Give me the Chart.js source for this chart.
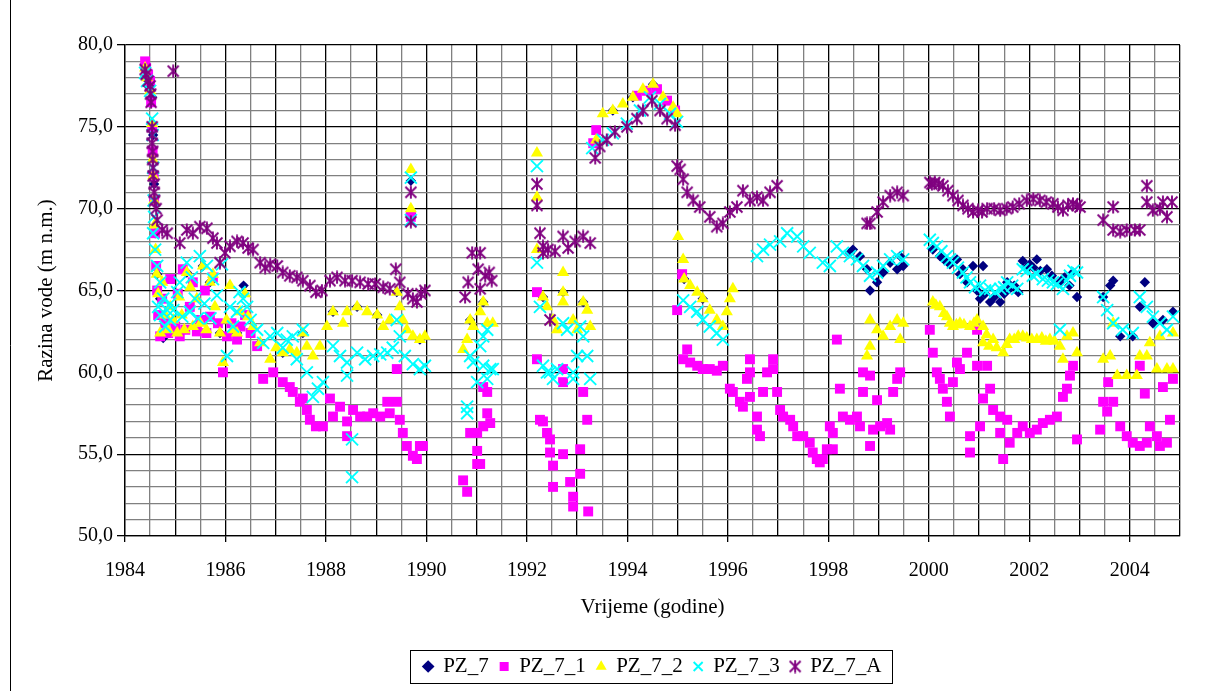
<!DOCTYPE html>
<html><head><meta charset="utf-8">
<script src="https://cdn.jsdelivr.net/npm/chart.js@4.4.0/dist/chart.umd.min.js"></script>
<style>html,body{margin:0;padding:0;background:#fff;}#wrap{width:1208px;height:691px;}</style>
</head><body><div id="wrap"><canvas id="c" width="1208" height="691"></canvas></div>
<script>
const seriesNames = ['PZ_7', 'PZ_7_1', 'PZ_7_2', 'PZ_7_3', 'PZ_7_A'];
const xTitle = 'Vrijeme (godine)';
const yTitle = 'Razina vode (m n.m.)';

const pz7 = [[1984.40,78.0],[1984.46,77.5],[1984.54,76.8],[1984.56,74.5],[1984.58,71.5],[1984.60,68.5],[1984.64,66.0],[1984.70,64.5],[1984.76,62.1],[1985.04,62.4],[1985.23,66.1],[1985.55,66.5],[1985.69,65.5],[1985.89,62.4],[1986.23,62.4],[1986.36,65.3],[1986.69,61.8],[1987.14,61.2],[1987.54,62.4],[1988.14,63.7],[1988.62,64.0],[1989.02,63.5],[1989.41,64.9],[1989.69,71.7],[1989.69,69.7],[1989.87,62.0],[1990.87,63.2],[1991.13,64.3],[1992.32,64.6],[1992.72,64.9],[1993.12,64.3],[1993.71,76.0],[1994.11,76.8],[1994.51,77.6],[1995.13,65.7],[1995.50,64.5],[1998.43,67.3],[1998.49,67.5],[1998.63,67.1],[1998.77,66.3],[1998.83,65.0],[1998.97,65.5],[1999.09,66.1],[1999.23,66.7],[1999.37,66.3],[1999.43,67.1],[1999.49,66.5],[2000.08,67.5],[2000.22,67.1],[2000.30,66.9],[2000.36,66.8],[2000.42,66.6],[2000.56,66.9],[2000.62,66.0],[2000.68,66.3],[2000.76,65.5],[2000.88,66.5],[2000.96,65.0],[2001.02,64.5],[2001.08,66.5],[2001.12,64.8],[2001.22,64.3],[2001.30,64.6],[2001.42,64.3],[2001.50,64.8],[2001.56,65.5],[2001.61,65.1],[2001.70,65.3],[2001.78,64.9],[2001.87,66.8],[2001.95,66.4],[2002.01,66.6],[2002.08,66.4],[2002.15,66.9],[2002.22,66.2],[2002.35,66.3],[2002.45,65.9],[2002.61,65.5],[2002.70,65.8],[2002.80,65.3],[2002.87,66.1],[2002.95,64.6],[2003.47,64.6],[2003.61,65.3],[2003.67,65.6],[2003.81,62.2],[2004.06,62.2],[2004.20,64.0],[2004.30,65.5],[2004.46,63.0],[2004.66,63.2],[2004.86,63.7]];

const pz7_1 = [[1984.40,79.0],[1984.42,78.6],[1984.46,78.2],[1984.50,77.8],[1984.52,76.5],[1984.54,75.0],[1984.55,73.5],[1984.57,72.0],[1984.58,70.5],[1984.60,68.5],[1984.62,66.5],[1984.64,65.0],[1984.66,63.5],[1984.70,62.2],[1984.74,64.5],[1984.80,63.0],[1984.86,62.4],[1984.90,65.7],[1985.00,62.8],[1985.05,64.8],[1985.09,62.2],[1985.15,66.3],[1985.20,62.6],[1985.29,64.0],[1985.35,65.5],[1985.43,62.5],[1985.50,63.2],[1985.59,65.0],[1985.62,62.4],[1985.69,63.4],[1985.75,65.8],[1985.85,63.0],[1985.95,60.0],[1986.03,62.2],[1986.12,63.0],[1986.23,62.0],[1986.30,62.8],[1986.39,63.5],[1986.50,62.4],[1986.63,61.6],[1986.75,59.6],[1986.95,60.0],[1987.14,59.4],[1987.28,59.1],[1987.34,58.8],[1987.48,58.2],[1987.54,58.4],[1987.62,57.7],[1987.68,57.1],[1987.80,56.7],[1987.94,56.7],[1988.08,58.4],[1988.14,57.3],[1988.28,57.9],[1988.42,57.0],[1988.42,56.1],[1988.54,57.7],[1988.68,57.3],[1988.82,57.3],[1988.94,57.5],[1989.08,57.3],[1989.22,58.2],[1989.27,57.5],[1989.41,58.2],[1989.41,60.2],[1989.47,57.1],[1989.53,56.3],[1989.61,55.5],[1989.69,69.5],[1989.73,54.9],[1989.81,54.7],[1989.87,55.5],[1989.93,55.5],[1990.73,53.4],[1990.81,52.7],[1990.87,56.3],[1991.01,56.3],[1991.01,55.2],[1991.01,54.4],[1991.07,54.4],[1991.13,56.7],[1991.13,59.1],[1991.21,57.5],[1991.21,58.8],[1991.27,56.9],[1992.20,64.9],[1992.20,60.8],[1992.26,57.1],[1992.32,57.0],[1992.40,56.3],[1992.46,55.9],[1992.46,55.1],[1992.52,54.3],[1992.52,53.0],[1992.72,60.2],[1992.72,59.4],[1992.72,55.0],[1992.86,53.3],[1992.92,52.4],[1992.92,51.8],[1993.06,55.3],[1993.06,53.8],[1993.12,58.8],[1993.20,57.1],[1993.22,51.5],[1993.32,74.0],[1993.38,74.8],[1994.19,76.9],[1994.39,77.2],[1994.59,77.3],[1994.79,76.6],[1994.95,76.0],[1994.99,63.8],[1995.09,66.0],[1995.19,61.4],[1995.11,60.8],[1995.25,60.6],[1995.39,60.4],[1995.50,60.2],[1995.64,60.2],[1995.78,60.1],[1995.90,60.4],[1996.04,59.0],[1996.10,58.8],[1996.24,58.2],[1996.30,57.9],[1996.38,59.6],[1996.44,58.5],[1996.44,60.0],[1996.44,60.8],[1996.58,57.3],[1996.58,56.5],[1996.64,56.1],[1996.70,58.8],[1996.78,60.0],[1996.90,60.2],[1996.90,60.8],[1996.98,58.8],[1997.04,57.7],[1997.10,57.3],[1997.24,57.1],[1997.30,56.7],[1997.38,56.1],[1997.50,56.1],[1997.63,55.7],[1997.69,55.1],[1997.77,54.7],[1997.83,54.5],[1997.89,54.7],[1997.97,55.3],[1998.03,56.7],[1998.09,55.3],[1998.09,56.3],[1998.17,62.0],[1998.23,59.0],[1998.29,57.3],[1998.43,57.1],[1998.57,57.3],[1998.63,56.7],[1998.69,60.0],[1998.69,58.8],[1998.83,59.8],[1998.83,55.5],[1998.89,56.5],[1998.97,58.3],[1999.03,56.7],[1999.17,56.9],[1999.23,56.5],[1999.29,58.8],[1999.37,59.6],[1999.43,60.0],[2000.02,62.6],[2000.08,61.2],[2000.16,60.0],[2000.22,59.6],[2000.28,59.0],[2000.36,58.2],[2000.42,57.3],[2000.48,59.4],[2000.56,60.6],[2000.62,60.2],[2000.76,61.2],[2000.82,56.1],[2000.82,55.1],[2000.96,60.4],[2000.96,62.6],[2001.02,56.7],[2001.08,58.4],[2001.16,60.4],[2001.22,59.0],[2001.28,57.7],[2001.42,57.3],[2001.42,56.3],[2001.48,54.7],[2001.56,57.1],[2001.61,55.7],[2001.76,56.3],[2001.87,56.7],[2002.01,56.3],[2002.15,56.5],[2002.27,56.9],[2002.41,57.1],[2002.55,57.3],[2002.67,58.5],[2002.75,59.0],[2002.81,59.8],[2002.87,60.4],[2002.95,55.9],[2003.41,56.5],[2003.47,58.2],[2003.55,57.6],[2003.57,59.4],[2003.67,58.2],[2003.81,56.7],[2003.94,56.1],[2004.06,55.7],[2004.20,55.5],[2004.20,60.4],[2004.30,58.7],[2004.34,55.7],[2004.40,56.7],[2004.54,56.1],[2004.60,55.5],[2004.66,59.1],[2004.74,55.7],[2004.80,57.1],[2004.86,59.6]];

const pz7_2 = [[1984.40,78.6],[1984.44,78.0],[1984.50,77.2],[1984.54,75.2],[1984.55,73.0],[1984.56,72.0],[1984.58,70.5],[1984.59,69.0],[1984.61,67.5],[1984.63,66.0],[1984.66,64.8],[1984.70,62.4],[1984.74,65.5],[1984.80,63.5],[1984.86,62.6],[1984.90,64.0],[1984.96,63.2],[1985.04,62.4],[1985.08,64.6],[1985.13,63.5],[1985.18,62.6],[1985.23,66.1],[1985.30,65.2],[1985.35,62.8],[1985.43,64.5],[1985.50,63.0],[1985.55,66.5],[1985.62,62.6],[1985.69,65.5],[1985.75,66.0],[1985.79,64.0],[1985.89,62.4],[1985.95,60.6],[1986.02,63.2],[1986.09,65.3],[1986.15,62.6],[1986.23,62.4],[1986.29,63.7],[1986.39,64.8],[1986.45,63.4],[1986.55,62.8],[1986.69,61.8],[1986.89,60.8],[1987.01,61.5],[1987.14,61.2],[1987.28,61.4],[1987.42,61.2],[1987.54,62.4],[1987.62,61.6],[1987.74,61.0],[1987.88,61.6],[1988.02,62.8],[1988.14,63.7],[1988.34,63.0],[1988.42,63.7],[1988.62,64.0],[1988.82,63.7],[1989.02,63.5],[1989.14,62.8],[1989.27,63.2],[1989.41,64.9],[1989.47,64.0],[1989.53,63.2],[1989.61,62.6],[1989.69,72.4],[1989.69,70.0],[1989.73,62.2],[1989.87,62.0],[1989.97,62.2],[1990.73,61.4],[1990.81,62.0],[1990.87,63.2],[1990.93,62.8],[1991.07,63.7],[1991.13,64.3],[1991.21,63.0],[1991.32,63.0],[1992.20,73.4],[1992.20,70.7],[1992.20,67.5],[1992.32,64.6],[1992.40,64.0],[1992.52,63.2],[1992.60,62.6],[1992.72,66.1],[1992.72,64.9],[1992.72,64.3],[1992.92,63.2],[1993.00,62.6],[1993.12,64.3],[1993.20,63.8],[1993.26,62.8],[1993.38,74.2],[1993.51,75.8],[1993.71,76.0],[1993.91,76.4],[1994.11,76.8],[1994.31,77.3],[1994.51,77.6],[1994.71,76.8],[1994.91,76.2],[1994.99,75.8],[1995.01,68.3],[1995.11,66.9],[1995.13,65.7],[1995.25,65.3],[1995.39,64.9],[1995.50,64.5],[1995.64,63.8],[1995.78,63.2],[1995.90,62.8],[1995.98,63.7],[1996.04,64.5],[1996.10,65.1],[1998.77,61.0],[1998.83,63.2],[1998.83,61.6],[1998.97,62.6],[1999.09,62.2],[1999.23,62.8],[1999.37,63.2],[1999.43,62.0],[1999.49,63.0],[2000.08,64.3],[2000.14,64.1],[2000.22,64.0],[2000.30,63.6],[2000.36,63.4],[2000.42,63.0],[2000.48,62.8],[2000.55,62.9],[2000.62,63.0],[2000.70,62.9],[2000.82,62.8],[2000.90,63.0],[2000.96,63.2],[2001.08,62.8],[2001.08,61.8],[2001.15,62.3],[2001.20,61.6],[2001.28,62.0],[2001.35,61.5],[2001.48,61.2],[2001.55,61.7],[2001.61,62.0],[2001.70,62.0],[2001.78,62.2],[2001.87,62.2],[2001.95,62.1],[2002.05,62.0],[2002.15,62.0],[2002.25,62.1],[2002.33,61.9],[2002.41,62.0],[2002.50,61.9],[2002.61,61.6],[2002.67,60.8],[2002.75,62.2],[2002.87,62.4],[2002.95,61.2],[2003.47,60.8],[2003.61,61.0],[2003.67,63.0],[2003.75,59.8],[2003.94,59.8],[2004.14,59.8],[2004.20,61.0],[2004.34,61.0],[2004.40,61.8],[2004.54,60.2],[2004.60,62.2],[2004.74,60.2],[2004.86,60.2],[2004.86,62.4]];

const pz7_3 = [[1984.40,78.3],[1984.44,77.8],[1984.50,77.2],[1984.54,75.5],[1984.55,74.5],[1984.56,72.5],[1984.57,70.5],[1984.58,69.5],[1984.56,68.5],[1984.60,67.5],[1984.64,66.5],[1984.66,64.0],[1984.70,65.5],[1984.70,63.5],[1984.76,64.5],[1984.80,62.8],[1984.84,63.8],[1984.90,63.2],[1984.90,64.2],[1984.96,63.8],[1985.04,64.9],[1985.09,65.5],[1985.14,63.4],[1985.23,66.7],[1985.29,63.7],[1985.33,65.8],[1985.39,64.5],[1985.45,63.3],[1985.49,67.1],[1985.58,64.2],[1985.63,66.5],[1985.70,63.3],[1985.75,65.7],[1985.83,64.7],[1985.93,66.6],[1986.03,61.0],[1986.09,64.0],[1986.15,62.8],[1986.23,63.7],[1986.28,64.9],[1986.35,64.5],[1986.43,64.0],[1986.50,63.2],[1986.63,62.6],[1986.75,61.8],[1986.89,62.2],[1987.03,62.4],[1987.14,61.5],[1987.22,62.0],[1987.34,62.2],[1987.42,60.8],[1987.54,62.6],[1987.62,60.0],[1987.74,58.5],[1987.84,59.0],[1987.94,59.4],[1988.14,61.6],[1988.28,61.0],[1988.42,60.6],[1988.42,59.8],[1988.52,55.9],[1988.52,53.6],[1988.62,61.2],[1988.78,60.8],[1988.94,61.0],[1989.08,61.1],[1989.22,61.2],[1989.33,61.5],[1989.41,63.2],[1989.47,62.2],[1989.57,61.0],[1989.69,71.9],[1989.69,69.3],[1989.73,60.5],[1989.87,60.2],[1989.97,60.4],[1990.81,57.9],[1990.81,57.5],[1990.87,61.0],[1990.93,60.6],[1991.01,59.4],[1991.07,61.6],[1991.13,62.2],[1991.13,60.4],[1991.21,62.6],[1991.21,59.6],[1991.27,60.2],[1991.32,60.2],[1992.20,72.6],[1992.20,66.7],[1992.26,64.0],[1992.32,60.4],[1992.40,60.0],[1992.46,60.0],[1992.52,59.6],[1992.60,60.2],[1992.72,63.0],[1992.80,62.6],[1992.92,60.0],[1992.92,59.6],[1993.00,61.0],[1993.06,62.8],[1993.12,62.2],[1993.20,61.0],[1993.26,59.6],[1993.30,73.7],[1993.51,74.2],[1993.71,74.6],[1993.99,75.2],[1994.25,76.0],[1994.45,76.8],[1994.65,76.4],[1994.85,75.8],[1994.99,75.3],[1995.11,64.4],[1995.25,64.0],[1995.39,63.7],[1995.50,63.2],[1995.64,62.8],[1995.78,62.4],[1995.90,62.0],[1996.58,67.1],[1996.70,67.5],[1996.84,67.8],[1997.04,68.0],[1997.18,68.5],[1997.38,68.3],[1997.50,67.7],[1997.63,67.3],[1997.89,66.7],[1998.03,66.5],[1998.17,67.7],[1998.29,67.3],[1998.43,67.1],[1998.57,66.9],[1998.69,66.5],[1998.83,65.9],[1998.97,66.1],[1999.09,66.5],[1999.23,66.9],[1999.37,67.1],[1999.49,66.9],[2000.02,68.1],[2000.08,67.9],[2000.16,67.7],[2000.25,67.4],[2000.36,67.1],[2000.42,66.9],[2000.48,66.7],[2000.58,66.4],[2000.68,66.1],[2000.75,65.8],[2000.82,65.5],[2000.92,65.2],[2001.02,65.3],[2001.12,65.0],[2001.22,65.1],[2001.32,64.9],[2001.42,65.1],[2001.50,65.2],[2001.56,65.5],[2001.66,65.3],[2001.76,65.1],[2001.87,66.3],[2001.95,66.2],[2002.07,65.9],[2002.15,66.0],[2002.27,65.7],[2002.37,65.6],[2002.47,65.5],[2002.55,65.4],[2002.61,62.6],[2002.67,65.1],[2002.75,65.6],[2002.81,65.9],[2002.88,66.2],[2002.95,66.1],[2003.47,64.6],[2003.55,63.8],[2003.67,63.0],[2003.86,62.6],[2004.06,62.4],[2004.20,64.6],[2004.34,64.0],[2004.46,63.4],[2004.60,63.0],[2004.74,62.6],[2004.86,63.4]];

const pz7A = [[1984.40,78.5],[1984.42,78.2],[1984.46,77.8],[1984.50,77.5],[1984.51,77.0],[1984.52,76.5],[1984.54,75.0],[1984.54,74.5],[1984.54,74.0],[1984.55,73.5],[1984.55,73.0],[1984.56,72.5],[1984.56,72.0],[1984.58,71.5],[1984.58,71.0],[1984.59,70.5],[1984.62,70.0],[1984.64,69.3],[1984.74,68.7],[1984.84,68.5],[1984.96,78.4],[1985.09,67.9],[1985.23,68.7],[1985.35,68.5],[1985.49,68.9],[1985.63,68.8],[1985.75,68.2],[1985.83,67.9],[1985.89,66.7],[1985.99,67.3],[1986.09,67.7],[1986.23,68.0],[1986.35,67.9],[1986.45,67.6],[1986.55,67.5],[1986.69,66.7],[1986.79,66.4],[1986.89,66.6],[1987.03,66.5],[1987.14,66.1],[1987.28,65.9],[1987.42,65.8],[1987.54,65.6],[1987.68,65.3],[1987.80,64.9],[1987.92,65.0],[1988.08,65.6],[1988.22,65.8],[1988.38,65.6],[1988.52,65.6],[1988.68,65.5],[1988.84,65.4],[1988.98,65.4],[1989.14,65.2],[1989.27,65.1],[1989.39,66.3],[1989.47,65.5],[1989.69,71.0],[1989.69,69.2],[1989.63,64.8],[1989.73,64.5],[1989.81,64.3],[1989.89,64.8],[1989.97,65.0],[1990.77,64.6],[1990.83,65.5],[1990.91,67.3],[1991.03,66.3],[1991.07,67.3],[1991.07,65.1],[1991.17,65.9],[1991.25,66.1],[1991.30,65.6],[1992.20,71.5],[1992.20,70.2],[1992.26,68.5],[1992.32,67.7],[1992.32,67.3],[1992.42,67.5],[1992.46,63.2],[1992.56,67.4],[1992.72,68.3],[1992.82,67.6],[1992.96,68.0],[1993.12,68.3],[1993.26,67.9],[1993.36,73.1],[1993.45,73.8],[1993.59,74.2],[1993.75,74.7],[1993.99,75.0],[1994.19,75.5],[1994.31,76.0],[1994.49,76.6],[1994.65,76.0],[1994.79,75.5],[1994.95,75.1],[1994.99,72.6],[1995.05,72.4],[1995.11,71.8],[1995.19,71.0],[1995.31,70.5],[1995.44,70.1],[1995.64,69.5],[1995.78,68.9],[1995.90,69.1],[1996.04,69.8],[1996.18,70.1],[1996.30,71.1],[1996.44,70.5],[1996.58,70.7],[1996.70,70.5],[1996.84,71.0],[1996.98,71.4],[1998.77,69.1],[1998.83,69.1],[1998.97,69.8],[1999.09,70.4],[1999.23,70.8],[1999.37,71.0],[1999.49,70.8],[2000.02,71.6],[2000.06,71.5],[2000.12,71.6],[2000.20,71.5],[2000.28,71.4],[2000.38,71.1],[2000.48,70.8],[2000.58,70.5],[2000.68,70.2],[2000.78,70.0],[2000.88,69.8],[2000.98,69.9],[2001.06,69.8],[2001.16,70.0],[2001.30,70.0],[2001.42,69.9],[2001.55,70.0],[2001.67,70.1],[2001.80,70.3],[2001.95,70.5],[2002.08,70.6],[2002.21,70.5],[2002.34,70.4],[2002.47,70.3],[2002.57,70.1],[2002.67,69.9],[2002.77,70.2],[2002.87,70.3],[2002.95,70.2],[2003.01,70.1],[2003.47,69.3],[2003.67,70.1],[2003.67,68.7],[2003.81,68.6],[2003.94,68.7],[2004.10,68.7],[2004.20,68.7],[2004.34,71.4],[2004.34,70.4],[2004.46,69.9],[2004.60,70.0],[2004.66,70.4],[2004.74,69.5],[2004.84,70.4]];

const seriesData = [pz7, pz7_1, pz7_2, pz7_3, pz7A];
const seriesColors = ['#000080', '#FF00FF', '#FFFF00', '#00FFFF', '#800080'];

function makeAsterisk(size, color, lw) {
  const c = document.createElement('canvas');
  c.width = size; c.height = size;
  const g = c.getContext('2d');
  g.strokeStyle = color; g.lineWidth = lw;
  const m = 1.5, s = size;
  g.beginPath();
  g.moveTo(m, m); g.lineTo(s - m, s - m);
  g.moveTo(s - m, m); g.lineTo(m, s - m);
  g.moveTo(s / 2, 0.5); g.lineTo(s / 2, s - 0.5);
  g.stroke();
  return c;
}
const asterisk = makeAsterisk(14, '#800080', 1.9);

const styles = [
  {pointStyle: 'rectRot', pointRadius: 5.2, borderWidth: 0},
  {pointStyle: 'rect', pointRadius: 7, borderWidth: 0},
  {pointStyle: 'triangle', pointRadius: 7, borderWidth: 0},
  {pointStyle: 'crossRot', pointRadius: 8.5, borderWidth: 1.9},
  {pointStyle: asterisk, pointRadius: 7, borderWidth: 1.9}
];

const datasets = seriesNames.map((name, i) => ({
  label: name,
  data: seriesData[i].map(p => ({x: p[0], y: p[1]})),
  backgroundColor: seriesColors[i],
  borderColor: seriesColors[i],
  pointStyle: styles[i].pointStyle,
  pointRadius: styles[i].pointRadius,
  pointHoverRadius: styles[i].pointRadius,
  pointBorderWidth: styles[i].borderWidth,
  borderWidth: styles[i].borderWidth,
  showLine: false,
  order: 5 - i
}));

const FONT = "'Liberation Serif', 'Times New Roman', serif";

const framePlugin = {
  id: 'frame',
  beforeDraw(chart) {
    const ctx = chart.ctx;
    ctx.save(); ctx.fillStyle = '#fff'; ctx.fillRect(0, 0, chart.width, chart.height); ctx.restore();
  },
  afterDraw(chart) {
    const ctx = chart.ctx;
    ctx.save();
    ctx.strokeStyle = '#000'; ctx.lineWidth = 1;
    ctx.beginPath(); ctx.moveTo(10.5, chart.height); ctx.lineTo(10.5, 0); ctx.stroke();
    const hb = chart.legend.legendHitBoxes;
    if (hb && hb.length) {
      const l = Math.min(...hb.map(h => h.left)) - 14;
      const r = Math.max(...hb.map(h => h.left + h.width)) + 10;
      const cy = hb[0].top + hb[0].height / 2;
      ctx.strokeRect(Math.round(l) + 0.5, Math.round(cy - 17) + 0.5, Math.round(r - l), 33);
    }
    ctx.restore();
  }
};

new Chart(document.getElementById('c'), {
  type: 'scatter',
  data: {datasets},
  plugins: [framePlugin],
  options: {
    responsive: false,
    devicePixelRatio: 1,
    animation: false,
    events: [],
    layout: {padding: {top: 45, right: 28, left: 0, bottom: 4}},
    plugins: {
      tooltip: {enabled: false},
      legend: {
        position: 'bottom',
        fullSize: false,
        labels: {
          usePointStyle: true,
          boxWidth: 9, boxHeight: 9,
          padding: 11,
          color: '#000',
          font: {family: FONT, size: 21},
          sort: (a, b) => a.datasetIndex - b.datasetIndex
        }
      }
    },
    scales: {
      x: {
        type: 'linear',
        min: 1984, max: 2005,
        afterFit(s) { s.height = 109; },
        ticks: {
          stepSize: 0.5,
          autoSkip: false,
          maxRotation: 0, minRotation: 0,
          padding: 17,
          color: '#000',
          font: {family: FONT, size: 20},
          callback: v => (Math.abs(v / 2 - Math.round(v / 2)) < 1e-6) ? String(Math.round(v)) : ''
        },
        grid: {
          color: c => (c.tick && Math.abs(c.tick.value - Math.round(c.tick.value)) < 1e-6) ? '#000' : '#808080',
          lineWidth: 1.3,
          tickLength: 6,
          tickColor: c => (c.tick && Math.abs(c.tick.value / 2 - Math.round(c.tick.value / 2)) < 1e-6) ? '#000' : 'rgba(0,0,0,0)'
        },
        border: {color: '#000', width: 1.3},
        title: {display: true, text: xTitle, color: '#000', font: {family: FONT, size: 21}, padding: {top: 0, bottom: 25}}
      },
      y: {
        type: 'linear',
        min: 50, max: 80,
        afterFit(s) { s.width = 125; },
        ticks: {
          stepSize: 1,
          autoSkip: false,
          padding: 4,
          color: '#000',
          font: {family: FONT, size: 20},
          callback: v => (v % 5 === 0) ? v.toFixed(1).replace('.', ',') : ''
        },
        grid: {
          color: c => (c.tick && c.tick.value % 5 === 0) ? '#000' : '#808080',
          lineWidth: 1.3,
          tickLength: 8,
          tickColor: c => (c.tick && c.tick.value % 5 === 0) ? '#000' : 'rgba(0,0,0,0)'
        },
        border: {color: '#000', width: 1.3},
        title: {display: true, text: yTitle, color: '#000', font: {family: FONT, size: 21}, padding: {top: 34, bottom: 0}}
      }
    }
  }
});
</script>
</body></html>
